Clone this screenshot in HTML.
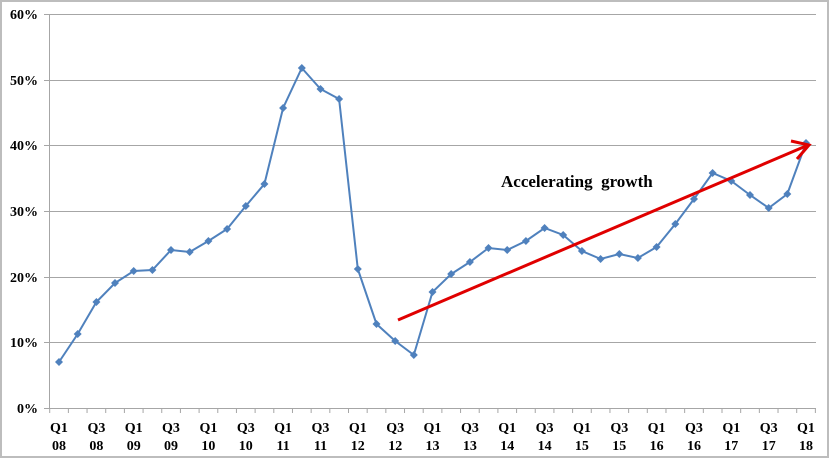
<!DOCTYPE html>
<html><head><meta charset="utf-8"><style>body{margin:0;background:#fff}svg{display:block}</style></head><body>
<svg width="829" height="458" xmlns="http://www.w3.org/2000/svg" font-family="Liberation Serif, serif" font-weight="bold">
<defs>
<marker id="d" markerWidth="10" markerHeight="10" refX="5" refY="5" markerUnits="userSpaceOnUse">
<polygon points="5,1 9,5 5,9 1,5" fill="#4f81bd"/>
</marker>
</defs>
<rect x="1" y="1" width="827" height="456" fill="#fff" stroke="#bdbdbd" stroke-width="2"/>
<g stroke="#a6a6a6" stroke-width="1">
<line x1="44" y1="14.5" x2="816" y2="14.5"/><line x1="44" y1="80.5" x2="816" y2="80.5"/><line x1="44" y1="145.5" x2="816" y2="145.5"/><line x1="44" y1="211.5" x2="816" y2="211.5"/><line x1="44" y1="277.5" x2="816" y2="277.5"/><line x1="44" y1="342.5" x2="816" y2="342.5"/><line x1="44" y1="408.5" x2="816" y2="408.5"/>
<line x1="49.5" y1="14" x2="49.5" y2="408"/>
<line x1="49.2" y1="410.5" x2="817" y2="410.5" stroke-width="5" stroke-dasharray="1 17.675"/>
</g>
<g font-size="14" text-anchor="end" fill="#000">
<text x="38" y="19">60%</text><text x="38" y="85">50%</text><text x="38" y="150">40%</text><text x="38" y="216">30%</text><text x="38" y="282">20%</text><text x="38" y="347">10%</text><text x="38" y="413">0%</text>
</g>
<g font-size="14" text-anchor="middle" fill="#000">
<text x="59" y="432">Q1</text><text x="59" y="450">08</text>
<text x="96.4" y="432">Q3</text><text x="96.4" y="450">08</text>
<text x="133.7" y="432">Q1</text><text x="133.7" y="450">09</text>
<text x="171" y="432">Q3</text><text x="171" y="450">09</text>
<text x="208.4" y="432">Q1</text><text x="208.4" y="450">10</text>
<text x="245.8" y="432">Q3</text><text x="245.8" y="450">10</text>
<text x="283.1" y="432">Q1</text><text x="283.1" y="450">11</text>
<text x="320.5" y="432">Q3</text><text x="320.5" y="450">11</text>
<text x="357.8" y="432">Q1</text><text x="357.8" y="450">12</text>
<text x="395.2" y="432">Q3</text><text x="395.2" y="450">12</text>
<text x="432.5" y="432">Q1</text><text x="432.5" y="450">13</text>
<text x="469.9" y="432">Q3</text><text x="469.9" y="450">13</text>
<text x="507.2" y="432">Q1</text><text x="507.2" y="450">14</text>
<text x="544.6" y="432">Q3</text><text x="544.6" y="450">14</text>
<text x="581.9" y="432">Q1</text><text x="581.9" y="450">15</text>
<text x="619.3" y="432">Q3</text><text x="619.3" y="450">15</text>
<text x="656.6" y="432">Q1</text><text x="656.6" y="450">16</text>
<text x="694" y="432">Q3</text><text x="694" y="450">16</text>
<text x="731.3" y="432">Q1</text><text x="731.3" y="450">17</text>
<text x="768.7" y="432">Q3</text><text x="768.7" y="450">17</text>
<text x="806" y="432">Q1</text><text x="806" y="450">18</text>
</g>
<polyline fill="none" stroke="#4f81bd" stroke-width="2" marker-start="url(#d)" marker-mid="url(#d)" marker-end="url(#d)"
points="59,362 77.7,334 96.4,302 115,283 133.7,271 152.4,270 171,250 189.7,252 208.4,241 227.1,229 245.8,206 264.4,184 283.1,108 301.8,68 320.5,89 339.1,99 357.8,269 376.5,324 395.2,341 413.8,355 432.5,292 451.2,274 469.9,262 488.5,248 507.2,250 525.9,241 544.6,228 563.2,235 581.9,251 600.6,259 619.3,254 637.9,258 656.6,247 675.3,224 694,199 712.6,173 731.3,181 750,195 768.7,208 787.3,194 806,143"/>
<line x1="398" y1="320" x2="806" y2="146" stroke="#e00000" stroke-width="3"/>
<polyline points="791,141 809,145 797,159" fill="none" stroke="#e00000" stroke-width="3"/>
<text x="501" y="187" font-size="17" fill="#000">Accelerating&#160; growth</text>
</svg>
</body></html>
